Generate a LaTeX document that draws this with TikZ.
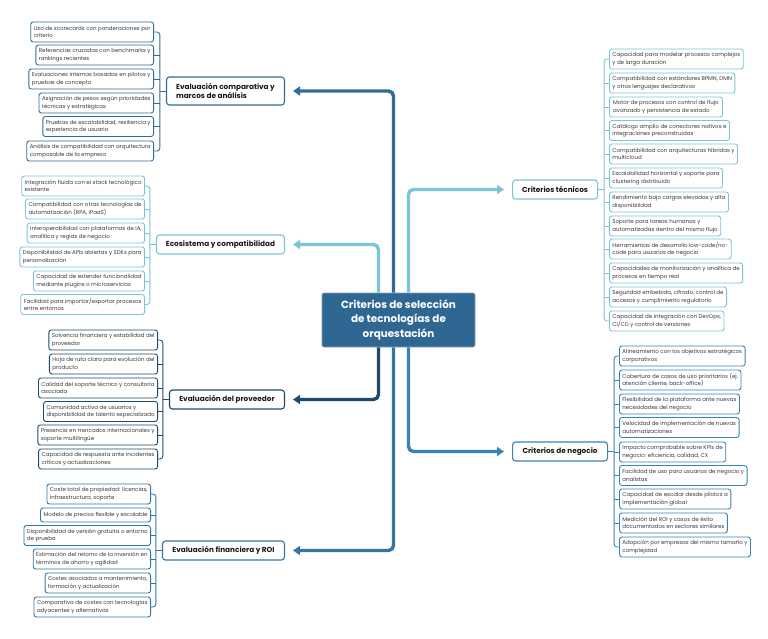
\documentclass[tikz,border=0pt]{standalone}
\usepackage{fontspec}
\setmainfont{Poppins}
\usetikzlibrary{arrows.meta, calc}

\definecolor{cMid}{HTML}{2F6E9B}
\definecolor{cLight}{HTML}{7DC4DB}
\definecolor{cNavy}{HTML}{1F4A6B}
\definecolor{cFin}{HTML}{3475A6}
\definecolor{cNeg}{HTML}{3B82B4}
\definecolor{cCore}{HTML}{2E6791}
\definecolor{leafText}{HTML}{3A3A3A}

\tikzset{
  leaf/.style={draw, rounded corners=2.5pt, line width=0.9pt, fill=white, text=leafText,
    font=\fontsize{5.5}{7.6}\selectfont, align=left, inner xsep=3pt, inner ysep=0pt,
    minimum height=20pt},
  branch/.style={draw, rounded corners=3pt, line width=1.1pt, fill=white, text=black!90,
    font=\bfseries\fontsize{7.3}{9.4}\selectfont, align=left, inner xsep=6pt, inner ysep=0pt,
    minimum height=19pt},
  core/.style={fill=cCore, draw=cCore!60, line width=0.6pt, rounded corners=2pt, text=white,
    font=\bfseries\fontsize{10.4}{14.2}\selectfont, align=center,
    minimum width=153pt, minimum height=54pt},
  conn/.style={line width=3.4pt, rounded corners=5pt, shorten >=8pt,
    -{Triangle[length=7pt, width=9pt]}},
  brace/.style={line width=0.9pt, rounded corners=3pt}
}

\begin{document}
\begin{tikzpicture}[x=1pt, y=-1pt, line join=round]

  % ===== Canvas =====
  \fill[white] (0,0) rectangle (768,638);
  \useasboundingbox (0,0) rectangle (768,638);

  % ===== Central topic =====
  \node[core] (core) at (398.5,320) {Criterios de selección\\de tecnologías de\\orquestación};

  % ===== Main branches =====
  \node[branch, draw=cMid, anchor=east, minimum width=118pt, minimum height=28pt] (comp) at (285,91)
    {Evaluación comparativa y\\marcos de análisis};
  \node[branch, draw=cLight, anchor=east, minimum width=128pt] (eco) at (285,244.5) {Ecosistema y compatibilidad};
  \node[branch, draw=cNavy, anchor=east, minimum width=115pt] (prov) at (285,399.5) {Evaluación del proveedor};
  \node[branch, draw=cFin, anchor=east, minimum width=122pt] (fin) at (285,550.5) {Evaluación financiera y ROI};
  \node[branch, draw=cLight, anchor=west, minimum width=85pt] (tec) at (512,189.5) {Criterios técnicos};
  \node[branch, draw=cNeg, anchor=west, minimum width=95pt] (neg) at (512,451.5) {Criterios de negocio};

  % ===== Connectors from the centre =====
  \draw[conn, cMid]   ($(core.north)+(-5,0)$)  |- (comp.east);
  \draw[conn, cLight] ($(core.north)+(-20,0)$) |- (eco.east);
  \draw[conn, cLight] ($(core.north)+(10,0)$)  |- (tec.west);
  \draw[conn, cNavy]  ($(core.south)+(-20,0)$) |- (prov.east);
  \draw[conn, cFin]   ($(core.south)+(-5,0)$)  |- (fin.east);
  \draw[conn, cNeg]   ($(core.south)+(10,0)$)  |- (neg.west);

  % ===== Evaluación comparativa: leaves =====
  \foreach \yy/\ww/\txt [count=\i] in {
      32/121/{Uso de scorecards con ponderaciones por\\criterio},
      55/115/{Referencias cruzadas con benchmarks y\\rankings recientes},
      79/122/{Evaluaciones internas basadas en pilotos y\\pruebas de concepto},
      103/112/{Asignación de pesos según prioridades\\técnicas y estratégicas},
      126.5/108/{Pruebas de escalabilidad, resiliencia y\\experiencia de usuario},
      151/122/{Análisis de compatibilidad con arquitectura\\composable de la empresa}}
    \node[leaf, draw=cMid, anchor=east, minimum width=\ww pt] (comp\i) at (154,\yy) {\txt};
  \coordinate (compB) at ($(comp.west)+(-6,0)$);
  \draw[brace, cMid] (comp1.east) -| (compB) |- (comp6.east);
  \draw[brace, cMid] (comp.west) -- (compB);
  \foreach \i in {2,...,5} \draw[brace, cMid] (comp\i.east) -- (comp\i.east -| compB);

  % ===== Ecosistema: leaves =====
  \foreach \yy/\ww/\txt [count=\i] in {
      186/122/{Integración fluida con el stack tecnológico\\existente},
      209/116/{Compatibilidad con otras tecnologías de\\automatización (RPA, iPaaS)},
      233/116/{Interoperabilidad con plataformas de IA,\\analítica y reglas de negocio},
      257/123/{Disponibilidad de APIs abiertas y SDKs para\\personalización},
      281/109/{Capacidad de extender funcionalidad\\mediante plugins o microservicios},
      304.5/121/{Facilidad para importar/exportar procesos\\entre entornos}}
    \node[leaf, draw=cLight, anchor=east, minimum width=\ww pt] (eco\i) at (145,\yy) {\txt};
  \coordinate (ecoB) at ($(eco.west)+(-6,0)$);
  \draw[brace, cLight] (eco1.east) -| (ecoB) |- (eco6.east);
  \draw[brace, cLight] (eco.west) -- (ecoB);
  \foreach \i in {2,...,5} \draw[brace, cLight] (eco\i.east) -- (eco\i.east -| ecoB);

  % ===== Proveedor: leaves =====
  \foreach \yy/\ww/\txt [count=\i] in {
      340/107/{Solvencia financiera y estabilidad del\\proveedor},
      364/106/{Hoja de ruta clara para evolución del\\producto},
      388/118/{Calidad del soporte técnico y consultoría\\asociada},
      411.5/110/{Comunidad activa de usuarios y\\disponibilidad de talento especializado},
      435/117/{Presencia en mercados internacionales y\\soporte multilingüe},
      459/115/{Capacidad de respuesta ante incidentes\\críticos y actualizaciones}}
    \node[leaf, draw=cNavy, anchor=east, minimum width=\ww pt] (prov\i) at (158,\yy) {\txt};
  \coordinate (provB) at ($(prov.west)+(-6,0)$);
  \draw[brace, cNavy] (prov1.east) -| (provB) |- (prov6.east);
  \draw[brace, cNavy] (prov.west) -- (provB);
  \foreach \i in {2,...,5} \draw[brace, cNavy] (prov\i.east) -- (prov\i.east -| provB);

  % ===== Financiera: leaves =====
  \foreach \yy/\ww/\hh/\txt [count=\i] in {
      494/103/20/{Coste total de propiedad: licencias,\\infraestructura, soporte},
      515/109/14/{Modelo de precios flexible y escalable},
      535.5/125/20/{Disponibilidad de versión gratuita o entorno\\de prueba},
      559/117/20/{Estimación del retorno de la inversión en\\términos de ahorro y agilidad},
      583/103/20/{Costes asociados a mantenimiento,\\formación y actualización},
      607/115/20/{Comparativa de costes con tecnologías\\adyacentes y alternativas}}
    \node[leaf, draw=cFin, anchor=east, minimum width=\ww pt, minimum height=\hh pt] (fin\i) at (151,\yy) {\txt};
  \coordinate (finB) at ($(fin.west)+(-6,0)$);
  \draw[brace, cFin] (fin1.east) -| (finB) |- (fin6.east);
  \draw[brace, cFin] (fin.west) -- (finB);
  \foreach \i in {2,...,5} \draw[brace, cFin] (fin\i.east) -- (fin\i.east -| finB);

  % ===== Criterios técnicos: leaves =====
  \foreach \yy/\ww/\txt [count=\i] in {
      59/128/{Capacidad para modelar procesos complejos\\y de larga duración},
      83/124/{Compatibilidad con estándares BPMN, DMN\\y otros lenguajes declarativos},
      107/113/{Motor de procesos con control de flujo\\avanzado y persistencia de estado},
      130.5/118/{Catálogo amplio de conectores nativos e\\integraciones preconstruidas},
      154/124/{Compatibilidad con arquitecturas híbridas y\\multicloud},
      178/112/{Escalabilidad horizontal y soporte para\\clustering distribuido},
      202/116/{Rendimiento bajo cargas elevadas y alta\\disponibilidad},
      226/108/{Soporte para tareas humanas y\\automatizadas dentro del mismo flujo},
      249/118/{Herramientas de desarrollo low-code/no-\\code para usuarios de negocio},
      273/129/{Capacidades de monitorización y analítica de\\procesos en tiempo real},
      297/115/{Seguridad embebida, cifrado, control de\\accesos y cumplimiento regulatorio},
      321/112/{Capacidad de integración con DevOps,\\CI/CD y control de versiones}}
    \node[leaf, draw=cLight, anchor=west, minimum width=\ww pt] (tec\i) at (609,\yy) {\txt};
  \coordinate (tecB) at ($(tec.east)+(6,0)$);
  \draw[brace, cLight] (tec1.west) -| (tecB) |- (tec12.west);
  \draw[brace, cLight] (tec.east) -- (tecB);
  \foreach \i in {2,...,11} \draw[brace, cLight] (tec\i.west) -- (tec\i.west -| tecB);

  % ===== Criterios de negocio: leaves =====
  \foreach \yy/\ww/\txt [count=\i] in {
      356/124/{Alineamiento con los objetivos estratégicos\\corporativos},
      380/120/{Cobertura de casos de uso prioritarios (ej.\\atención cliente, back-office)},
      404/118/{Flexibilidad de la plataforma ante nuevas\\necesidades del negocio},
      427.5/117/{Velocidad de implementación de nuevas\\automatizaciones},
      452/104/{Impacto comprobable sobre KPIs de\\negocio: eficiencia, calidad, CX},
      475.5/125/{Facilidad de uso para usuarios de negocio y\\analistas},
      499/108/{Capacidad de escalar desde pilotos a\\implementación global},
      523/104/{Medición del ROI y casos de éxito\\documentados en sectores similares},
      547/128/{Adopción por empresas del mismo tamaño y\\complejidad}}
    \node[leaf, draw=cNeg, anchor=west, minimum width=\ww pt] (neg\i) at (619,\yy) {\txt};
  \coordinate (negB) at ($(neg.east)+(6,0)$);
  \draw[brace, cNeg] (neg1.west) -| (negB) |- (neg9.west);
  \draw[brace, cNeg] (neg.east) -- (negB);
  \foreach \i in {2,...,8} \draw[brace, cNeg] (neg\i.west) -- (neg\i.west -| negB);

\end{tikzpicture}
\end{document}
